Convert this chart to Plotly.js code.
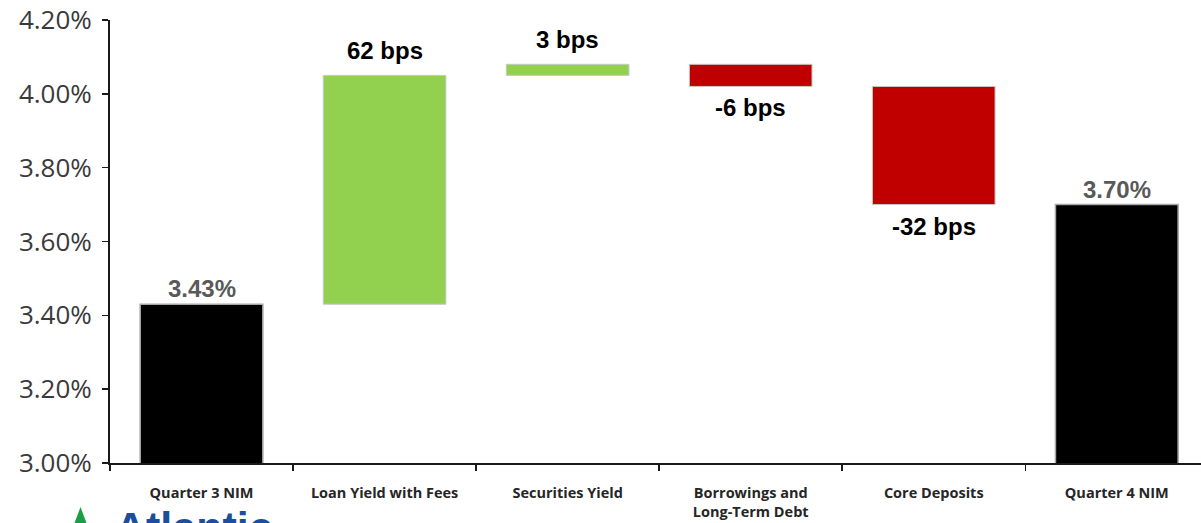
<!DOCTYPE html>
<html>
<head>
<meta charset="utf-8">
<script src="https://cdn.plot.ly/plotly-3.0.1.min.js"></script>
<style>
html,body{margin:0;padding:0;background:#fff;overflow:hidden;}
#chart{width:1201px;height:523px;}
</style>
</head>
<body>
<div id="chart"></div>
<script>
// ---- data ----
const categories = ["Quarter 3 NIM", "Loan Yield with Fees", "Securities Yield", "Borrowings and<br>Long-Term Debt", "Core Deposits", "Quarter 4 NIM"];
const measures = ["absolute", "relative", "relative", "relative", "relative", "total"];
const values = [3.43, 0.62, 0.03, -0.06, -0.32, 3.70];
const labels = ["3.43%", "62 bps", "3 bps", "-6 bps", "-32 bps", "3.70%"];
const yTicks = [3.0, 3.2, 3.4, 3.6, 3.8, 4.0, 4.2];
const yTickText = ["3.00%", "3.20%", "3.40%", "3.60%", "3.80%", "4.00%", "4.20%"];

// running ends for label placement
const ends = [];
let run = 0;
for (let i = 0; i < values.length; i++) {
  if (measures[i] === "absolute") run = values[i];
  else if (measures[i] === "relative") run += values[i];
  ends.push(run);
}

const trace = {
  type: "waterfall",
  x: categories,
  y: values,
  measure: measures,
  width: 0.67,
  connector: {visible: false},
  increasing: {marker: {color: "#92D050", line: {color: "#c9c9c9", width: 1}}},
  decreasing: {marker: {color: "#C00000", line: {color: "#c9c9c9", width: 1}}},
  totals: {marker: {color: "#000000", line: {color: "#a6a6a6", width: 1.5}}},
  textinfo: "none",
  hoverinfo: "skip"
};

const annotations = [];
for (let i = 0; i < values.length; i++) {
  const isTotal = measures[i] !== "relative";
  const neg = !isTotal && values[i] < 0;
  annotations.push({
    x: categories[i], y: ends[i], xref: "x", yref: "y",
    text: "<b>" + labels[i] + "</b>",
    showarrow: false,
    xanchor: "center",
    yanchor: neg ? "top" : "bottom",
    yshift: isTotal ? 0 : (neg ? -6 : 9),
    font: {family: "Liberation Sans, Arial, sans-serif", size: 24, color: isTotal ? "#595959" : "#000000"}
  });
}
// logo text
annotations.push({
  xref: "paper", yref: "paper", x: 0, y: 0, xanchor: "left", yanchor: "top",
  xshift: 3, yshift: -38, showarrow: false,
  text: "<b>Atlantic</b>", font: {family: "Liberation Sans, Arial, sans-serif", size: 43, color: "#1b4f9c"}
});

const shapes = [{
  type: "path", xref: "paper", yref: "paper",
  xsizemode: "pixel", ysizemode: "pixel", xanchor: 0, yanchor: 0,
  path: "M -29.5,-44 L -37,-64 L -22,-64 Z",
  fillcolor: "#1a9e47", line: {width: 0}
}];

const layout = {
  width: 1201, height: 523,
  margin: {l: 110, r: 0, t: 20, b: 60, pad: 0},
  paper_bgcolor: "#ffffff", plot_bgcolor: "#ffffff",
  showlegend: false,
  xaxis: {
    type: "category",
    range: [-0.5, 5.46],
    showline: true, linecolor: "#1a1a1a", linewidth: 2,
    ticks: "outside", tickson: "boundaries", ticklen: 6, tickcolor: "#1a1a1a", tickwidth: 1.5,
    showgrid: false, zeroline: false,
    ticklabelstandoff: 16,
    tickfont: {family: "Open Sans, sans-serif", size: 14.5, color: "#262626", weight: "bold"}
  },
  yaxis: {
    range: [3.0, 4.2],
    tickmode: "array",
    tickvals: yTicks,
    ticktext: yTickText,
    showline: true, linecolor: "#1a1a1a", linewidth: 2,
    ticks: "outside", ticklen: 6, tickcolor: "#1a1a1a", tickwidth: 1.5,
    showgrid: false, zeroline: false,
    ticklabelstandoff: 5,
    tickfont: {family: "Open Sans, sans-serif", size: 26, color: "#3a3a3a"}
  },
  shapes: shapes,
  annotations: annotations
};

Plotly.newPlot("chart", [trace], layout, {displayModeBar: false, staticPlot: true});
</script>
</body>
</html>
